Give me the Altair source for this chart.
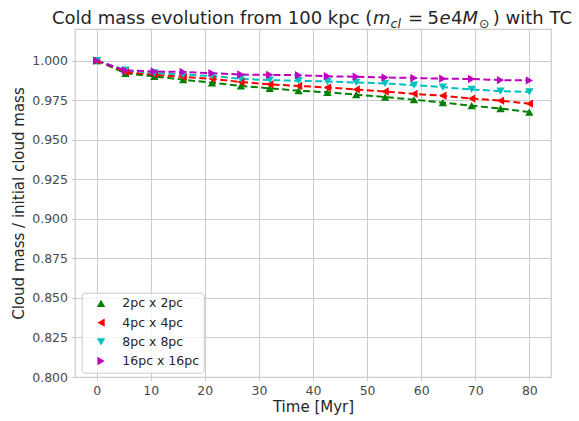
import altair as alt
import pandas as pd

# ---- data ----
time_myr = [0, 5.33, 10.67, 16, 21.33, 26.67, 32, 37.33, 42.67, 48, 53.33, 58.67, 64, 69.33, 74.67, 80]
mass_2pc = [1.0, 0.992, 0.990, 0.988, 0.986, 0.984, 0.9825, 0.981, 0.980, 0.9785, 0.977, 0.9753, 0.9735, 0.9715, 0.9697, 0.9675]
mass_4pc = [1.0, 0.993, 0.991, 0.9897, 0.9885, 0.9865, 0.985, 0.984, 0.983, 0.9818, 0.9805, 0.979, 0.9778, 0.976, 0.9747, 0.9728]
mass_8pc = [1.0, 0.994, 0.9922, 0.9912, 0.9903, 0.9885, 0.9877, 0.9873, 0.9868, 0.9862, 0.9856, 0.9845, 0.9832, 0.9818, 0.9807, 0.9802]
mass_16pc = [1.0, 0.9938, 0.9932, 0.9928, 0.9921, 0.9912, 0.991, 0.9908, 0.9901, 0.9898, 0.9894, 0.989, 0.9886, 0.9884, 0.9877, 0.9875]

series_labels = ["2pc x 2pc", "4pc x 4pc", "8pc x 8pc", "16pc x 16pc"]
series_colors = ["#008000", "#ff0000", "#00bfbf", "#bf00bf"]
series_shapes = ["triangle-up", "triangle-left", "triangle-down", "triangle-right"]

x_ticks = [0, 10, 20, 30, 40, 50, 60, 70, 80]
y_ticks = [0.8, 0.825, 0.85, 0.875, 0.9, 0.925, 0.95, 0.975, 1.0]

rows = []
for lab, vals in zip(series_labels, [mass_2pc, mass_4pc, mass_8pc, mass_16pc]):
    for t, v in zip(time_myr, vals):
        rows.append({"time": t, "mass": v, "res": lab})
df = pd.DataFrame(rows)

FONT = "DejaVu Sans"
TXT = "#262626"

x_enc = alt.X("time:Q",
              scale=alt.Scale(domain=[-4, 84], nice=False, zero=False),
              axis=alt.Axis(title="Time [Myr]", values=x_ticks, format="d"))
y_enc = alt.Y("mass:Q",
              scale=alt.Scale(domain=[0.8, 1.02], nice=False, zero=False),
              axis=alt.Axis(title="Cloud mass / initial cloud mass", values=y_ticks, format=".3f"))

legend = alt.Legend(title=None, orient="none", legendX=6.7, legendY=263.7,
                    padding=4.5, rowPadding=6.2, symbolOffset=8.6, labelOffset=15,
                    labelFont=FONT, labelFontSize=12.5, labelColor=TXT,
                    fillColor="rgba(255,255,255,0.8)", strokeColor="#cccccc",
                    cornerRadius=3, symbolSize=70, symbolStrokeWidth=0)

color_scale = alt.Scale(domain=series_labels, range=series_colors)
shape_scale = alt.Scale(domain=series_labels, range=series_shapes)

# one dashed line layer per series, with a fixed colour (no legend involvement)
line_layers = [
    alt.Chart(df).transform_filter(alt.datum.res == lab).mark_line(
        color=col, strokeDash=[7, 3.5], strokeWidth=2
    ).encode(x=x_enc, y=y_enc)
    for lab, col in zip(series_labels, series_colors)
]

points = alt.Chart(df).mark_point(filled=True, size=70, opacity=1).encode(
    x=x_enc, y=y_enc,
    color=alt.Color("res:N", scale=color_scale, legend=legend),
    shape=alt.Shape("res:N", scale=shape_scale, legend=legend),
)

# ---- title with math-like pieces ----
one = pd.DataFrame({"k": [0]})
def piece(text, px, py, size=18, style="normal", align="left"):
    return alt.Chart(one).mark_text(text=text, align=align, baseline="alphabetic",
                                    font=FONT, fontSize=size, fontStyle=style,
                                    color=TXT).encode(x=alt.value(px), y=alt.value(py))

BL = -5
SUB = -1.5
title_parts = [
    piece("Cold mass evolution from 100 kpc (", -23, BL),
    piece("m", 298, BL, style="italic"),
    piece("cl", 315.5, SUB, size=12.6, style="italic"),
    piece("=", 333, BL),
    piece("5", 352.5, BL),
    piece("e", 364.5, BL, style="italic"),
    piece("4", 376, BL),
    piece("M", 387.5, BL, style="italic"),
    piece("\u2299", 404, SUB, size=12.6),
    piece(") with TC", 497, BL, align="right"),
]

chart = alt.layer(*line_layers, points, *title_parts).properties(
    width=476, height=348,
    autosize=alt.AutoSizeParams(type="none"),
    padding={"left": 75, "top": 29, "right": 28, "bottom": 44},
).configure_view(
    stroke="#cccccc", strokeWidth=1.25
).configure_axis(
    domain=False,
    grid=True, gridColor="#cccccc", gridWidth=1.1,
    ticks=True, tickColor="#cccccc", tickSize=3.5, tickWidth=1.1,
    labelFont=FONT, labelFontSize=12.5, labelColor="#4a4a4a", labelPadding=4,
    titleFont=FONT, titleFontSize=15, titleColor=TXT, titleFontWeight="normal",
).configure_axisX(
    titlePadding=2
).configure_axisY(
    titlePadding=5
)

chart.save("out.html", embed_options={"renderer": "svg", "actions": False})
